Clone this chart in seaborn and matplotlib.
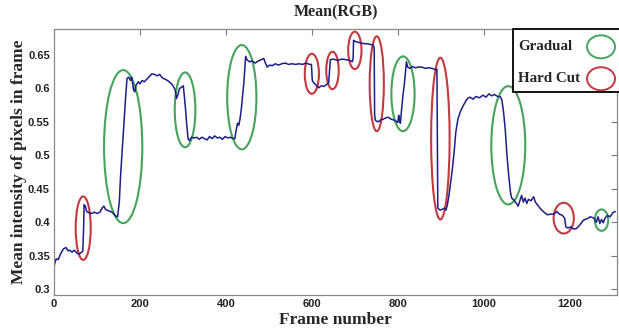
import pandas as pd
import seaborn as sns
import matplotlib
matplotlib.use("Agg")
import matplotlib.pyplot as plt
from matplotlib.patches import Ellipse, Rectangle

# Mean RGB intensity per frame
frames = [0, 5, 10, 15, 22, 28, 33, 37, 42, 47, 53, 58, 64, 67, 69, 70, 73, 76, 82, 88,
          94, 100, 107, 112, 116, 120, 126, 132, 138, 144, 148, 152, 155, 158, 161, 164, 167, 170, 174, 178,
          181, 185, 188, 191, 196, 200, 205, 210, 216, 222, 228, 234, 240, 246, 252, 258, 264, 270, 276, 282,
          285, 288, 292, 297, 301, 303, 306, 309, 312, 315, 320, 326, 332, 338, 344, 350, 356, 362, 368, 374,
          380, 386, 392, 398, 404, 410, 416, 421, 423, 425, 427, 430, 433, 436, 439, 442, 444, 446, 449, 455,
          462, 468, 475, 482, 488, 492, 496, 502, 508, 515, 522, 530, 538, 546, 554, 562, 570, 578, 586, 595,
          599, 601, 605, 610, 616, 622, 628, 634, 639, 641, 643, 650, 660, 670, 680, 688, 694, 696, 697, 702,
          708, 715, 722, 728, 735, 743, 745, 746, 748, 754, 760, 766, 772, 778, 784, 790, 796, 800, 802, 804,
          806, 809, 812, 815, 818, 820, 823, 828, 834, 840, 848, 856, 864, 872, 880, 888, 891, 893, 898, 903,
          908, 912, 915, 919, 923, 927, 931, 935, 940, 946, 952, 958, 962, 968, 975, 982, 990, 998, 1005, 1012,
          1018, 1025, 1032, 1038, 1042, 1046, 1050, 1054, 1058, 1062, 1065, 1070, 1076, 1080, 1084, 1088, 1092, 1096, 1100, 1104,
          1110, 1116, 1120, 1126, 1132, 1140, 1148, 1156, 1164, 1170, 1176, 1183, 1188, 1191, 1196, 1202, 1208, 1214, 1220, 1226,
          1232, 1240, 1248, 1256, 1262, 1266, 1270, 1274, 1278, 1282, 1288, 1294, 1300, 1306]
mean_rgb = [0.334, 0.345, 0.344, 0.352, 0.360, 0.362, 0.357, 0.358, 0.355, 0.358, 0.354, 0.352, 0.355, 0.356, 0.392, 0.426, 0.424, 0.416, 0.414, 0.413,
            0.415, 0.413, 0.415, 0.421, 0.424, 0.419, 0.417, 0.416, 0.413, 0.409, 0.408, 0.430, 0.470, 0.500, 0.530, 0.560, 0.590, 0.615, 0.617, 0.612,
            0.617, 0.598, 0.595, 0.605, 0.610, 0.607, 0.612, 0.610, 0.614, 0.618, 0.622, 0.621, 0.619, 0.621, 0.616, 0.614, 0.612, 0.609, 0.605, 0.598,
            0.585, 0.590, 0.600, 0.602, 0.604, 0.590, 0.570, 0.545, 0.525, 0.522, 0.527, 0.526, 0.527, 0.524, 0.527, 0.525, 0.523, 0.528, 0.525, 0.529,
            0.526, 0.527, 0.524, 0.528, 0.526, 0.527, 0.525, 0.525, 0.535, 0.541, 0.548, 0.545, 0.555, 0.570, 0.590, 0.610, 0.630, 0.648, 0.643, 0.640,
            0.641, 0.638, 0.641, 0.643, 0.645, 0.638, 0.632, 0.635, 0.634, 0.637, 0.635, 0.637, 0.638, 0.636, 0.637, 0.636, 0.637, 0.636, 0.638, 0.636,
            0.636, 0.612, 0.608, 0.605, 0.601, 0.604, 0.603, 0.606, 0.608, 0.625, 0.643, 0.644, 0.642, 0.644, 0.643, 0.642, 0.640, 0.645, 0.672, 0.670,
            0.669, 0.668, 0.667, 0.667, 0.666, 0.665, 0.660, 0.560, 0.552, 0.550, 0.553, 0.554, 0.556, 0.557, 0.554, 0.553, 0.551, 0.549, 0.560, 0.552,
            0.548, 0.570, 0.590, 0.605, 0.625, 0.640, 0.632, 0.630, 0.633, 0.631, 0.632, 0.632, 0.630, 0.631, 0.630, 0.628, 0.629, 0.421, 0.418, 0.419,
            0.421, 0.418, 0.425, 0.440, 0.460, 0.480, 0.505, 0.535, 0.555, 0.566, 0.574, 0.581, 0.585, 0.587, 0.584, 0.588, 0.586, 0.590, 0.587, 0.592,
            0.589, 0.591, 0.588, 0.588, 0.583, 0.565, 0.538, 0.500, 0.470, 0.445, 0.436, 0.433, 0.428, 0.424, 0.432, 0.440, 0.430, 0.436, 0.428, 0.434,
            0.432, 0.438, 0.430, 0.425, 0.420, 0.415, 0.411, 0.412, 0.412, 0.416, 0.412, 0.410, 0.406, 0.393, 0.391, 0.393, 0.390, 0.390, 0.393, 0.398,
            0.403, 0.405, 0.408, 0.406, 0.400, 0.408, 0.398, 0.404, 0.399, 0.406, 0.410, 0.408, 0.414, 0.416]

# Transition markers: centre frame, centre value, width (frames), height (intensity)
gradual_x = [161, 305, 437, 812, 1057, 1274]
gradual_y = [0.513, 0.568, 0.587, 0.592, 0.515, 0.403]
gradual_w = [89, 48, 68, 54, 79, 31]
gradual_h = [0.229, 0.112, 0.156, 0.112, 0.177, 0.032]

hardcut_x = [68, 600, 648, 700, 751, 899, 1186]
hardcut_y = [0.391, 0.622, 0.627, 0.657, 0.607, 0.525, 0.406]
hardcut_w = [35, 33, 29, 31, 33, 43, 47]
hardcut_h = [0.095, 0.060, 0.056, 0.056, 0.142, 0.242, 0.046]

legend_labels = ["Gradual", "Hard Cut"]

df = pd.DataFrame({"frame": frames, "mean": mean_rgb})

sns.set_style("white")
plt.rcParams["font.family"] = ["Liberation Sans", "DejaVu Sans"]

GREEN = "#45a35c"
RED = "#c23a3f"
LINE = "#1c1c8a"
SERIF = ["Liberation Serif", "DejaVu Serif"]

fig = plt.figure(figsize=(6.19, 3.31), dpi=100)
ax = fig.add_axes([0.0872, 0.1088, 0.9096, 0.8036])

sns.lineplot(data=df, x="frame", y="mean", color=LINE, linewidth=1.1,
             estimator=None, sort=False, ax=ax)

for x, y, w, h in zip(gradual_x, gradual_y, gradual_w, gradual_h):
    ax.add_patch(Ellipse((x, y), w, h, fill=False, edgecolor=GREEN, linewidth=1.5))
for x, y, w, h in zip(hardcut_x, hardcut_y, hardcut_w, hardcut_h):
    ax.add_patch(Ellipse((x, y), w, h, fill=False, edgecolor=RED, linewidth=1.5))

ax.set_xlim(0, 1310)
ax.set_ylim(0.291, 0.689)
ax.set_xticks([0, 200, 400, 600, 800, 1000, 1200])
ax.set_yticks([0.3, 0.35, 0.4, 0.45, 0.5, 0.55, 0.6, 0.65])
ax.set_yticklabels(["0.3", "0.35", "0.4", "0.45", "0.5", "0.55", "0.6", "0.65"])
ax.tick_params(direction="in", length=4, width=0.8, color="#777777",
               labelsize=8, labelcolor="#222222", top=True, right=True, pad=3)
for lbl in ax.get_xticklabels() + ax.get_yticklabels():
    lbl.set_fontweight("bold")

for s in ax.spines.values():
    s.set_color("#888888")
    s.set_linewidth(0.9)

ax.set_title("Mean(RGB)", family=SERIF, fontweight="bold", fontsize=11.5, pad=9)
ax.set_xlabel("Frame number", family=SERIF, fontweight="bold", fontsize=12.5, labelpad=2)
ax.set_ylabel("Mean intensity of pixels in frame", family=SERIF, fontweight="bold",
              fontsize=12.5, labelpad=1)

# Legend box drawn by hand: text column on the left, ellipses aligned on the right
ax.add_patch(Rectangle((0.815, 0.764), 0.19, 0.236, transform=ax.transAxes,
                       facecolor="white", edgecolor="black", linewidth=1.3,
                       clip_on=False, zorder=5))
for lab, col, yy in zip(legend_labels, [GREEN, RED], [0.933, 0.813]):
    ax.text(0.824, yy, lab, transform=ax.transAxes, family=SERIF, fontweight="bold",
            fontsize=10.8, va="center", ha="left", zorder=6)
    ax.add_patch(Ellipse((0.9716, yy), 0.0497, 0.0865, transform=ax.transAxes,
                         fill=False, edgecolor=col, linewidth=1.4, clip_on=False, zorder=6))

fig.savefig("out.png", dpi=100)
